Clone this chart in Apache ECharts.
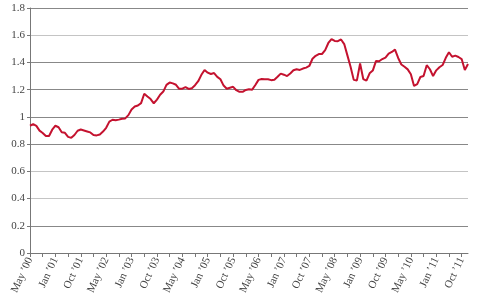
<!DOCTYPE html>
<html>
<head>
<meta charset="utf-8">
<script src="https://cdn.jsdelivr.net/npm/echarts@6/dist/echarts.min.js"></script>
<style>
html,body{margin:0;padding:0;background:#fff;}
#chart{width:480px;height:300px;}
</style>
</head>
<body>
<div id="chart"></div>
<script>
var tickLabels = ["May ’00","Jan ’01","Oct ’01","May ’02","Jan ’03","Oct ’03","May ’04","Jan ’05","Oct ’05","May ’06","Jan ’07","Oct ’07","May ’08","Jan ’09","Oct ’09","May ’10","Jan ’11","Oct ’11"];

var values = [
0.935,0.947,0.934,0.899,0.882,0.859,0.860,0.906,0.935,0.924,
0.887,0.883,0.853,0.846,0.867,0.898,0.907,0.900,0.893,0.886,
0.867,0.864,0.871,0.892,0.920,0.965,0.979,0.976,0.980,0.986,
0.989,1.013,1.055,1.076,1.084,1.101,1.170,1.150,1.131,1.100,
1.127,1.163,1.186,1.235,1.252,1.246,1.236,1.206,1.207,1.218,
1.205,1.211,1.233,1.262,1.309,1.345,1.325,1.315,1.322,1.294,
1.276,1.230,1.207,1.214,1.221,1.196,1.184,1.184,1.198,1.203,
1.200,1.234,1.272,1.278,1.277,1.276,1.270,1.273,1.295,1.318,
1.310,1.300,1.319,1.343,1.350,1.345,1.355,1.362,1.374,1.427,
1.449,1.462,1.462,1.490,1.543,1.572,1.558,1.556,1.569,1.535,
1.452,1.369,1.272,1.268,1.392,1.278,1.266,1.320,1.340,1.410,
1.409,1.425,1.436,1.465,1.477,1.494,1.433,1.385,1.368,1.349,
1.313,1.227,1.240,1.293,1.300,1.380,1.350,1.300,1.342,1.365,
1.381,1.434,1.475,1.442,1.450,1.440,1.425,1.345,1.389
];

var categories = values.map(function(_, i){ return String(i); });

var gridColors = ['#888888','#888888','#c4c4c4','#c4c4c4','#888888','#888888','#888888','#888888','#c4c4c4','#888888'];

var chart = echarts.init(document.getElementById('chart'), null, {renderer:'canvas'});
chart.setOption({
  animation: false,
  grid: {left: 30, right: 12, top: 8, bottom: 47, containLabel: false},
  xAxis: {
    type: 'category',
    data: categories,
    boundaryGap: false,
    axisLine: {lineStyle: {color: '#777', width: 1}},
    axisTick: {show: true, interval: 3, length: 4, lineStyle: {color: '#777'}},
    axisLabel: {
      interval: 7,
      rotate: 65,
      margin: 5,
      fontFamily: 'Liberation Serif',
      fontSize: 11,
      color: '#444',
      formatter: function(v, i){ return tickLabels[Math.round(i/8)] || ''; }
    },
    splitLine: {show: false}
  },
  yAxis: {
    type: 'value',
    min: 0,
    max: 1.8,
    interval: 0.2,
    axisLine: {show: true, lineStyle: {color: '#777', width: 1}},
    axisTick: {show: true, length: 3, lineStyle: {color: '#777'}},
    axisLabel: {
      margin: 5,
      fontFamily: 'Liberation Serif',
      fontSize: 11,
      color: '#444'
    },
    splitLine: {show: true, lineStyle: {color: gridColors, width: 1}}
  },
  series: [{
    type: 'line',
    data: values,
    symbol: 'none',
    smooth: false,
    lineStyle: {color: '#c4122f', width: 2},
    itemStyle: {color: '#c4122f'}
  }]
});
</script>
</body>
</html>
